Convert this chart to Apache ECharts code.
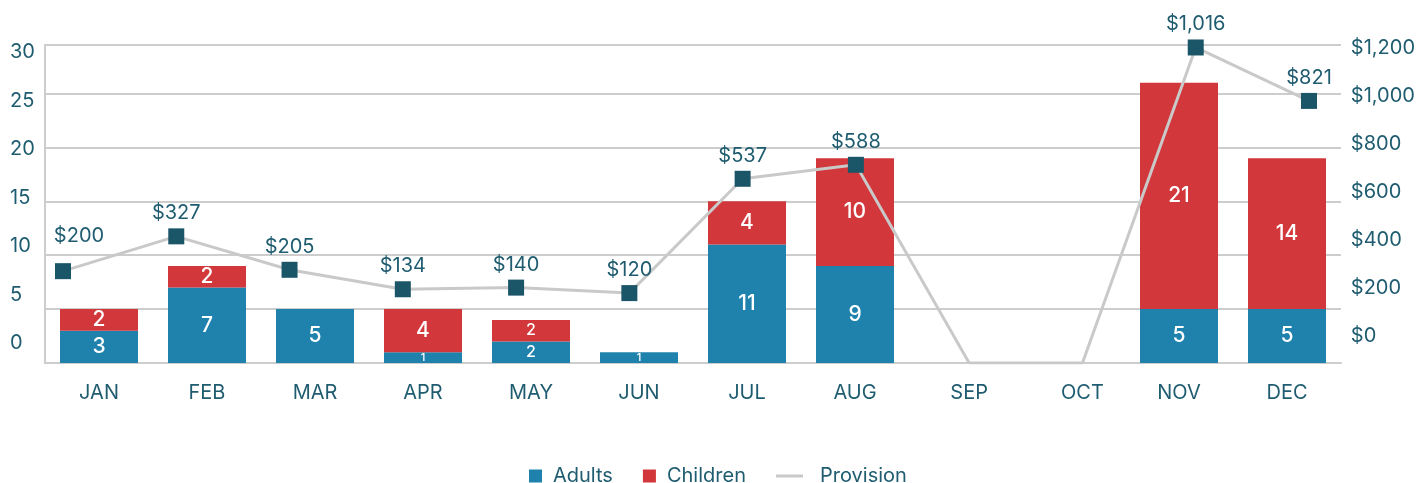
<!DOCTYPE html>
<html>
<head>
<meta charset="utf-8">
<script src="https://cdn.jsdelivr.net/npm/echarts@6/dist/echarts.min.js"></script>
<style>
  html, body { margin: 0; padding: 0; background: #fff; }
  #chart { width: 1418px; height: 483px; }
</style>
</head>
<body>
<div id="chart"></div>
<script>
const months = ['JAN', 'FEB', 'MAR', 'APR', 'MAY', 'JUN', 'JUL', 'AUG', 'SEP', 'OCT', 'NOV', 'DEC']
const adults = [3, 7, 5, 1, 2, 1, 11, 9, 0, 0, 5, 5]
const children = [2, 2, 0, 4, 2, 0, 4, 10, 0, 0, 21, 14]
const provision = [200, 327, 205, 134, 140, 120, 537, 588, 0, 0, 1016, 821]
const leftTicks = [0, 30, 5]
const rightTicks = [0, 1200, 200]

const TEXT = '#1f5c70'
const GRID = '#cdcdcd'
const FONT = 'Inter'
// the provision line sits on its own (hidden) scale, empty months drop to the floor
const lineMin = -135
const lineMax = 1025

function barData(vals) {
  return vals.map((v, i) => {
    let size = 21
    if (v === 1) size = 11
    else if (adults[i] + children[i] < 5) size = 16
    return { value: v, label: { fontSize: size } }
  })
}

function money(v) {
  return '$' + v.toLocaleString('en-US')
}

const chart = echarts.init(document.getElementById('chart'))
chart.setOption({
  animation: false,
  textStyle: { fontFamily: FONT },
  grid: [
    { left: 45, right: 77, top: 45, bottom: 120 },
    { left: 63, right: 109, top: 45, bottom: 120 },
    { left: 45, right: 77, top: 52, bottom: 140 },
    { left: 45, right: 77, top: 48, bottom: 147 }
  ],
  legend: [{
    data: ['Adults', 'Children'],
    left: 524,
    top: 461,
    icon: 'rect',
    itemWidth: 13,
    itemHeight: 13,
    itemGap: 30,
    textStyle: { color: TEXT, fontSize: 20, fontFamily: FONT, padding: [0, 0, 0, 6] }
  }, {
    data: ['Provision'],
    left: 771,
    top: 461,
    icon: 'rect',
    itemWidth: 27,
    itemHeight: 3,
    itemStyle: { color: '#c9c9c9' },
    textStyle: { color: TEXT, fontSize: 20, fontFamily: FONT, padding: [0, 0, 0, 12] }
  }],
  xAxis: [{
    gridIndex: 0,
    type: 'category',
    data: months,
    axisLine: { lineStyle: { color: GRID, width: 2 } },
    axisTick: { inside: true, length: 6, lineStyle: { color: GRID, width: 2 } },
    axisLabel: {
      interval: 0,
      margin: 20,
      color: TEXT,
      fontSize: 20,
      formatter: (v, i) => (i === 8 || i === 9) ? '' : v
    }
  }, {
    gridIndex: 1,
    type: 'category',
    data: months,
    boundaryGap: false,
    axisLine: { show: false },
    axisTick: { show: false },
    axisLabel: {
      interval: 0,
      margin: 20,
      color: TEXT,
      fontSize: 20,
      formatter: (v, i) => (i === 8 || i === 9) ? v : ''
    }
  }, {
    gridIndex: 2, type: 'category', show: false
  }, {
    gridIndex: 3, type: 'category', show: false
  }],
  yAxis: [{
    gridIndex: 0,
    type: 'value',
    min: 0,
    max: 29.5,
    interval: 5,
    axisLine: { show: true, lineStyle: { color: GRID, width: 2 } },
    axisTick: { show: false },
    axisLabel: { show: false },
    splitLine: { lineStyle: { color: GRID, width: 2 } }
  }, {
    gridIndex: 1,
    type: 'value',
    min: lineMin,
    max: lineMax,
    show: false,
    splitLine: { show: false }
  }, {
    gridIndex: 2,
    type: 'value',
    min: leftTicks[0],
    max: leftTicks[1],
    interval: leftTicks[2],
    axisLine: { show: false },
    axisTick: { show: false },
    splitLine: { show: false },
    axisLabel: { align: 'left', margin: 35, color: TEXT, fontSize: 20 }
  }, {
    gridIndex: 3,
    type: 'value',
    position: 'right',
    min: rightTicks[0],
    max: rightTicks[1],
    interval: rightTicks[2],
    axisLine: { show: false },
    axisTick: { show: false },
    splitLine: { show: false },
    axisLabel: { align: 'left', margin: 14, color: TEXT, fontSize: 20, formatter: v => money(v) }
  }],
  series: [{
    name: 'Adults',
    type: 'bar',
    stack: 'total',
    xAxisIndex: 0,
    yAxisIndex: 0,
    barWidth: 78,
    itemStyle: { color: '#1f82ad' },
    label: {
      show: true,
      position: 'inside',
      color: '#fff',
      fontWeight: 500,
      formatter: p => p.value ? p.value : ''
    },
    data: barData(adults)
  }, {
    name: 'Children',
    type: 'bar',
    stack: 'total',
    xAxisIndex: 0,
    yAxisIndex: 0,
    barWidth: 78,
    itemStyle: { color: '#d2373b' },
    label: {
      show: true,
      position: 'inside',
      color: '#fff',
      fontWeight: 500,
      formatter: p => p.value ? p.value : ''
    },
    data: barData(children)
  }, {
    name: 'Provision',
    type: 'line',
    xAxisIndex: 1,
    yAxisIndex: 1,
    symbol: 'rect',
    symbolSize: 16,
    z: 5,
    itemStyle: { color: '#1b5568' },
    lineStyle: { color: '#c9c9c9', width: 3 },
    label: {
      show: true,
      position: 'top',
      distance: 5,
      color: TEXT,
      fontSize: 20,
      formatter: p => provision[p.dataIndex] ? money(provision[p.dataIndex]) : ''
    },
    data: provision.map((v, i) => {
      const item = { value: v === 0 ? lineMin : v }
      if (v === 0) item.symbol = 'none'
      if (i === 0) item.label = { offset: [16, -12] }
      return item
    })
  }]
})
</script>
</body>
</html>
